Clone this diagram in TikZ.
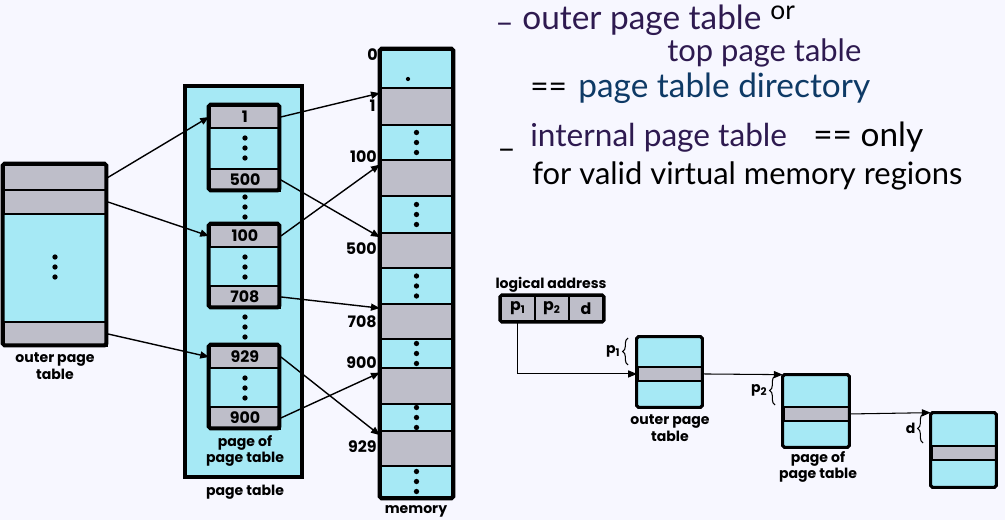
\documentclass[tikz,border=0pt]{standalone}
\usepackage{fontspec}
\newfontfamily\figfont{Poppins}
\newfontfamily\handfont{Lato}
\usetikzlibrary{fit,decorations.pathreplacing,arrows.meta}
\definecolor{tblcyan}{RGB}{166,233,245}
\definecolor{tblgray}{RGB}{190,190,201}
\definecolor{inkpurple}{HTML}{2E1A50}
\definecolor{inkblue}{HTML}{0E3A66}
\begin{document}
\begin{tikzpicture}[x=0.02cm,y=-0.02cm,>={Triangle[length=5pt,width=4pt]}]
\tikzset{
  box/.style={fill=tblcyan,inner sep=0pt},
  rim/.style={draw,line width=2pt,rounded corners=1pt},
  row/.style={draw,line width=1.1pt,fill=tblgray,inner sep=0pt,anchor=north west,font=\figfont\bfseries\fontsize{9}{10}\selectfont},
  lbl/.style={font=\figfont\bfseries\fontsize{8}{9.5}\selectfont,align=center,inner sep=0pt},
  num/.style={font=\figfont\bfseries\fontsize{9}{10}\selectfont,anchor=east,inner sep=0pt},
  hand/.style={font=\handfont\fontsize{18}{22}\selectfont,anchor=base west,inner sep=0pt},
  link/.style={->,line width=0.8pt},
  brc/.style={decorate,decoration={brace,amplitude=3pt},line width=0.6pt}
}
\fill[white!97!blue] (0,0) rectangle (1005,520);

\node[box,fit={(3,164) (106,345)}] (outer) {};
\node[row,minimum width=2.06cm,minimum height=0.5cm] (o1) at (3,164) {};
\node[row,minimum width=2.06cm,minimum height=0.48cm] (o2) at (3,189) {};
\node[row,minimum width=2.06cm,minimum height=0.48cm] (o3) at (3,321) {};
\draw[rim,line width=2.2pt] (outer.north west) rectangle (outer.south east);
\foreach \y in {257,267,277} \fill (55,\y) circle (1.5pt);
\node[lbl] (outerlbl) at (55,366) {outer page\\table};

\node[box,draw,line width=1.9pt,fit={(185,86) (302,477)}] (ptable) {};
\foreach \t/\b/\na/\nb/\n in {105/190/1/500/A,224/307/100/708/B,345/428/929/900/C} {
  \node[box,fit={(209,\t) (279,\b)}] (p\n) {};
  \node[row,minimum width=1.4cm,minimum height=0.44cm] (row\n1) at (209,\t) {\na};
  \node[row,minimum width=1.4cm,minimum height=0.44cm] (row\n2) at (209,\b-22) {\nb};
  \draw[rim,line width=2.2pt] (p\n.north west) rectangle (p\n.south east);
  \foreach \d in {33,43,53} \fill (245,\t+\d) circle (1.5pt);
}
\foreach \y in {197,207,217,317,327,337} \fill (245,\y) circle (1.5pt);
\node[lbl] (pplbl) at (245,451) {page of\\page table};
\node[lbl] (ptlbl) at (245,492) {page table};

\foreach \t/\b/\c [count=\i from 0] in {50/88/tblcyan,88/125/tblgray,125/160/tblcyan,160/196/tblgray,196/233/tblcyan,233/268/tblgray,268/304/tblcyan,304/339/tblgray,339/368/tblcyan,368/404/tblgray,404/431/tblcyan,431/466/tblgray,466/497/tblcyan}
  \node[draw,line width=1.4pt,fill=\c,inner sep=0pt,fit={(381,\t) (452,\b)}] (m\i) {};
\foreach \i in {2,4,6,8,10,12} \foreach \d in {-10,0,10} \fill ([yshift=\d*0.02cm]m\i.center) circle (1.5pt);
\fill (408,79) circle (1.2pt);
\draw[rim,line width=2.4pt] (m0.north west) rectangle (m12.south east);
\node[num] (a0) at (378,55) {0};
\node[num] (a1) at (376,106) {1};
\node[num] (a100) at (377,157) {100};
\node[num] (a500) at (377,249) {500};
\node[num] (a708) at (377,322) {708};
\node[num] (a900) at (377,363) {900};
\node[num] (a929) at (377,447) {929};
\node[lbl] (memlbl) at (416,511) {memory};

\draw[link] (o1.east) -- (rowA1.west);
\draw[link] (o2.east) -- (rowB1.west);
\draw[link] (o3.east) -- (rowC1.west);
\draw[link] (rowA1.east) -- (m1.160);
\draw[link] (rowA2.east) -- (m5.160);
\draw[link] (rowB1.east) -- (m3.160);
\draw[link] (rowB2.east) -- (m7.160);
\draw[link] (rowC1.east) -- (m11.160);
\draw[link] (rowC2.east) -- (m9.160);

\node[hand,text=inkpurple] (h1dash) at (495,34) {–};
\node[hand,text=inkpurple,font=\handfont\fontsize{19}{22}\selectfont] (h1) at (522,30) {outer page table};
\node[hand,font=\handfont\fontsize{15}{18}\selectfont] (h1or) at (770,20) {or};
\node[hand,text=inkpurple,font=\handfont\fontsize{17.6}{22}\selectfont] (h2) at (667,62) {top page table};
\node[hand] (h3eq) at (530,98) {==};
\node[hand,text=inkblue,font=\handfont\fontsize{19}{22}\selectfont] (h3) at (578,98) {page table directory};
\node[hand] (h4dash) at (497,160) {–};
\node[hand,text=inkpurple] (h4) at (530,147) {internal page table};
\node[hand,font=\handfont\fontsize{19}{22}\selectfont] (h4b) at (813,147) {== only};
\node[hand,font=\handfont\fontsize{17.6}{22}\selectfont] (h5) at (532,185) {for valid virtual memory regions};

\node[lbl] (lalbl) at (551,285) {logical address};
\node[row,minimum width=0.68cm,minimum height=0.5cm] (lp1) at (500,295) {p\textsubscript{1}};
\node[row,minimum width=0.68cm,minimum height=0.5cm] (lp2) at (534,295) {p\textsubscript{2}};
\node[row,minimum width=0.68cm,minimum height=0.5cm] (ld) at (568,295) {d};
\draw[rim,line width=1.8pt] (lp1.north west) rectangle (ld.south east);

\foreach \l/\r/\t/\b/\gt/\n in {637/702/337/407/366/ot,783/849/375/447/406/pp,931/996/413/487/445/pg} {
  \node[box,fit={(\l,\t) (\r,\b)}] (\n box) {};
  \node[row,minimum width=1.3cm,minimum height=0.28cm] (\n row) at (\l,\gt) {};
  \draw[rim,line width=1.8pt] (\n box.north west) rectangle (\n box.south east);
}
\node[lbl] (otlbl) at (670,428) {outer page\\table};
\node[lbl] (pplbl2) at (818,467) {page of\\page table};

\draw[link,line width=0.6pt] (lp1.south) |- (otrow.west);
\draw[link,line width=0.6pt] (otrow.east) -- (ppbox.north west);
\draw[link,line width=0.6pt] (pprow.east) -- (pgbox.north west);

\draw[brc] (628,365) -- (628,338) node[midway,left=4pt,lbl] (bp1) {p\textsubscript{1}};
\draw[brc] (775,405) -- (775,376) node[midway,left=4pt,lbl] (bp2) {p\textsubscript{2}};
\draw[brc] (923,443) -- (923,414) node[midway,left=4pt,lbl] (bd) {d};
\end{tikzpicture}
\end{document}
